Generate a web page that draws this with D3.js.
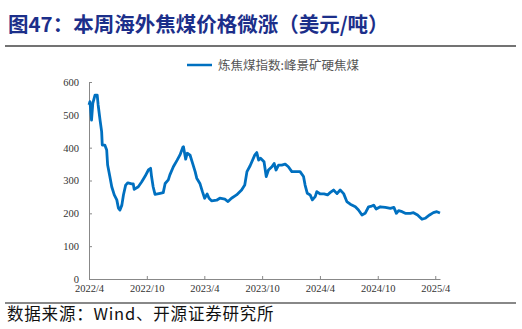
<!DOCTYPE html>
<html>
<head>
<meta charset="utf-8">
<script src="https://cdn.jsdelivr.net/npm/d3@7"></script>
<style>
  body { margin: 0; background: #fff; }
  svg { display: block; }
</style>
</head>
<body>
<svg width="522" height="329"></svg>
<script>
const dates = [
  '2022-04-01', '2022-04-04', '2022-04-09', '2022-04-13', '2022-04-20', '2022-04-27', '2022-04-30',
  '2022-05-06', '2022-05-11', '2022-05-13', '2022-05-21', '2022-05-27', '2022-05-30',
  '2022-06-06', '2022-06-12', '2022-06-20', '2022-06-28', '2022-07-03', '2022-07-08',
  '2022-07-14', '2022-07-19', '2022-07-26', '2022-08-02', '2022-08-14', '2022-08-19',
  '2022-08-22', '2022-09-04', '2022-09-15', '2022-09-25', '2022-10-06', '2022-10-13',
  '2022-10-16', '2022-10-21', '2022-10-27', '2022-11-12', '2022-11-22', '2022-11-28',
  '2022-12-08', '2022-12-13', '2022-12-24', '2023-01-05', '2023-01-14', '2023-01-23',
  '2023-01-25', '2023-02-01', '2023-02-06', '2023-02-15', '2023-02-23', '2023-03-03',
  '2023-03-08', '2023-03-18', '2023-03-26', '2023-04-02', '2023-04-10', '2023-04-16',
  '2023-04-24', '2023-05-10', '2023-05-20', '2023-06-05', '2023-06-15', '2023-06-26',
  '2023-07-12', '2023-07-28', '2023-08-07', '2023-08-14', '2023-08-24', '2023-09-08',
  '2023-09-14', '2023-09-20', '2023-09-26', '2023-10-07', '2023-10-14', '2023-10-21',
  '2023-11-01', '2023-11-08', '2023-11-14', '2023-11-22', '2023-12-02', '2023-12-13',
  '2023-12-23', '2024-01-03', '2024-01-19', '2024-01-29', '2024-02-09', '2024-02-14',
  '2024-02-21', '2024-03-01', '2024-03-08', '2024-03-17', '2024-03-22', '2024-04-02',
  '2024-04-14', '2024-04-25', '2024-05-03', '2024-05-14', '2024-05-25', '2024-06-04',
  '2024-06-15', '2024-06-25', '2024-07-06', '2024-07-22', '2024-08-01', '2024-08-12',
  '2024-08-22', '2024-09-02', '2024-09-12', '2024-09-18', '2024-09-26', '2024-10-09',
  '2024-10-25', '2024-11-10', '2024-11-21', '2024-11-29', '2024-12-06', '2024-12-17',
  '2024-12-27', '2025-01-12', '2025-01-22', '2025-02-04', '2025-02-18', '2025-02-28',
  '2025-03-14', '2025-03-26', '2025-04-06', '2025-04-16'
];
const prices = [
  530, 540, 484, 535, 560, 560, 530,
  484, 449, 408, 408, 393, 347,
  312, 281, 256, 241, 216, 210,
  225, 256, 286, 293, 290, 290,
  273, 281, 296, 312, 332, 337,
  312, 281, 258, 261, 263, 291,
  302, 317, 342, 362, 378, 401,
  403, 365, 383, 377, 352, 327,
  307, 291, 266, 246, 259, 246,
  238, 240, 246, 243, 236, 246,
  256, 271, 286, 327, 345, 378,
  385, 362, 368, 357, 312, 332,
  342, 352, 332, 347, 347, 350,
  342, 327, 327, 327, 312, 286,
  261, 256, 241, 251, 266, 259,
  259, 256, 263, 271, 260, 271,
  260, 236, 228, 220, 210, 195,
  200, 220, 222, 225, 213, 220,
  218, 215, 218, 200, 208, 205,
  200, 200, 202, 195, 182, 185,
  195, 202, 205, 201
];
const yTicks = [0, 100, 200, 300, 400, 500, 600];
const xTickDates = ['2022-04-01', '2022-10-01', '2023-04-01', '2023-10-01', '2024-04-01', '2024-10-01', '2025-04-01'];
const xTickLabels = ['2022/4', '2022/10', '2023/4', '2023/10', '2024/4', '2024/10', '2025/4'];
const seriesName = '炼焦煤指数:峰景矿硬焦煤';
const title = '图47：本周海外焦煤价格微涨（美元/吨）';
const source = '数据来源：Wind、开源证券研究所';

const parse = d3.timeParse('%Y-%m-%d');
const data = dates.map((d, i) => ({ date: parse(d), value: prices[i] }));

const svg = d3.select('svg');
const lineColor = '#0070c0';
const serif = '"Liberation Serif", "Times New Roman", serif';
const cjk = '"Noto Sans CJK SC", sans-serif';

// title + rule
svg.append('text')
  .attr('x', 8)
  .attr('y', 32)
  .attr('fill', '#1c2f8a')
  .attr('font-family', cjk)
  .attr('font-weight', 'bold')
  .attr('font-size', 20.5)
  .text(title);

svg.append('line')
  .attr('x1', 5).attr('x2', 516)
  .attr('y1', 46).attr('y2', 46)
  .attr('stroke', '#444')
  .attr('stroke-width', 1.5);

// scales
const x = d3.scaleTime()
  .domain([parse('2022-04-01'), parse('2025-04-16')])
  .range([89, 440]);
const y = d3.scaleLinear()
  .domain([0, 600])
  .range([279, 82]);

// axes
const xAxis = svg.append('g')
  .attr('transform', 'translate(0,279)')
  .call(d3.axisBottom(x)
    .tickValues(xTickDates.map(parse))
    .tickFormat((d, i) => xTickLabels[i])
    .tickSizeInner(-3)
    .tickSizeOuter(0)
    .tickPadding(6));
xAxis.select('.domain').attr('stroke', '#888');
xAxis.selectAll('.tick line').attr('stroke', '#888');
xAxis.selectAll('.tick text')
  .attr('font-family', serif)
  .attr('font-size', 10.5)
  .attr('fill', '#333');

const yAxis = svg.append('g')
  .attr('transform', 'translate(89,0)')
  .call(d3.axisLeft(y)
    .tickValues(yTicks)
    .tickSizeInner(-3)
    .tickSizeOuter(0)
    .tickPadding(10));
yAxis.select('.domain').attr('stroke', '#888');
yAxis.selectAll('.tick line').attr('stroke', '#888');
yAxis.selectAll('.tick text')
  .attr('font-family', serif)
  .attr('font-size', 10.5)
  .attr('fill', '#333');

// series
const line = d3.line()
  .x(d => x(d.date))
  .y(d => y(d.value));

svg.append('path')
  .datum(data)
  .attr('fill', 'none')
  .attr('stroke', lineColor)
  .attr('stroke-width', 2.8)
  .attr('stroke-linejoin', 'round')
  .attr('d', line);

// legend
svg.append('line')
  .attr('x1', 187).attr('x2', 212)
  .attr('y1', 65).attr('y2', 65)
  .attr('stroke', lineColor)
  .attr('stroke-width', 2.5);
svg.append('text')
  .attr('x', 218)
  .attr('y', 69.5)
  .attr('fill', '#555')
  .attr('font-family', cjk)
  .attr('font-size', 12.5)
  .text(seriesName);

// source
svg.append('line')
  .attr('x1', 5).attr('x2', 516)
  .attr('y1', 303).attr('y2', 303)
  .attr('stroke', '#888')
  .attr('stroke-width', 2);
svg.append('text')
  .attr('x', 7)
  .attr('y', 320)
  .attr('fill', '#111')
  .attr('font-family', cjk)
  .attr('font-size', 16.5)
  .attr('letter-spacing', 0.8)
  .text(source);
</script>
</body>
</html>
